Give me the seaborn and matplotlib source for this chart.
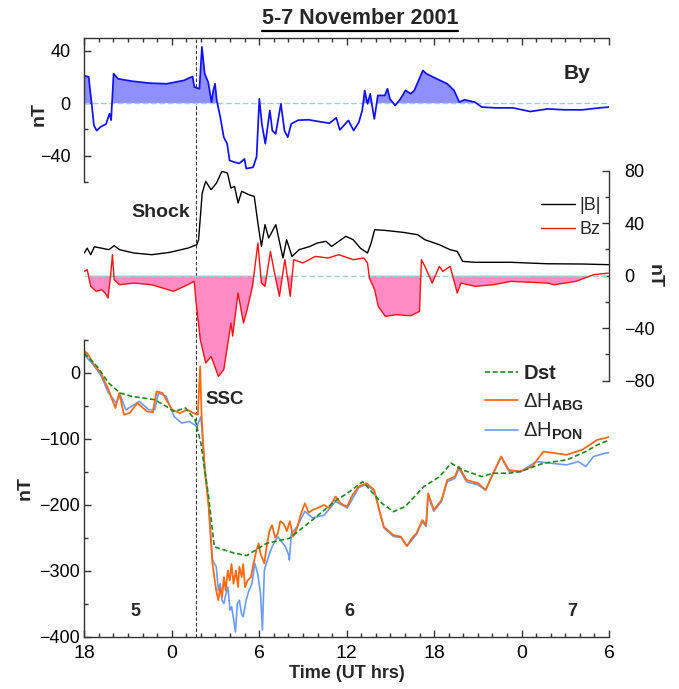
import numpy as np
import pandas as pd
import matplotlib
matplotlib.use('Agg')
import matplotlib.pyplot as plt
import seaborn as sns
from matplotlib.ticker import MultipleLocator, FixedLocator
from matplotlib.lines import Line2D

# ---------------- data (time in hours since 18 UT, 5 Nov 2001) ----------------
by_t = [0, 0.3, 0.53, 0.66, 0.85, 1.13, 1.49, 1.73, 1.84, 2.01, 2.32, 3.27, 4.46, 5.65,
        6.84, 7.43, 7.55, 7.9, 8.07, 8.26, 8.5, 8.73, 8.85, 8.97, 9.09, 9.33, 9.57, 9.8,
        9.97, 10.28, 10.64, 10.99, 11.11, 11.58, 11.82, 12.01, 12.18, 12.42, 12.73, 12.9,
        13.13, 13.49, 13.73, 13.96, 14.2, 14.68, 15.39, 16.34, 16.82, 17.29, 17.53, 18.12,
        18.48, 18.84, 19.07, 19.24, 19.43, 19.62, 19.8, 19.9, 20.14, 20.62, 20.8, 20.97,
        21.33, 21.69, 22.04, 22.4, 22.64, 23.23, 23.47, 24.18, 24.9, 25.37, 25.73, 26.08,
        26.8, 27.27, 28.22, 29.41, 30.6, 31.79, 32.98, 34.17, 35.35, 36.0]
by_v = [21, 20, -3, -17, -21, -18, -16, -8, -13, 22.5, 18.6, 16.8, 15.3, 14.8,
        17.4, 20.4, 12.3, 11, 43, 22.5, 16, 0.8, 9.7, 14.8, 2, -10.7, -26, -31,
        -43.8, -45, -46, -42.6, -50, -49, -41, 3.3, -15.8, -31, -5.6, -21,
        -23.5, -0.5, -21, -26, -15.8, -13, -12.7, -14.5, -15.3, -11.2, -20.4, -13.2,
        -20.9, -14.5, -5.6, 9.7, -0.5, 7.2, -5.6, -12, 5.9, 5.9, 11, 3.3,
        -1.8, 3.3, 9.7, 7.2, 9.7, 25, 22.5, 18.6, 14.8, 9.7, 0.8, 2.6,
        0.8, -3, -3.6, -3.6, -6.4, -4.4, -5.1, -5.1, -3.6, -3]

b_t = [0, 0.2, 0.44, 0.69, 1.18, 1.68, 2.05, 2.42, 3.4, 4.63, 5.87, 7.1, 7.72, 7.84,
       8.09, 8.33, 8.7, 9.07, 9.44, 9.82, 10.06, 10.31, 10.55, 10.8, 11.29, 11.66, 11.91,
       12.15, 12.4, 12.65, 13.14, 13.63, 13.88, 14.25, 14.74, 15.48, 15.98, 16.59, 16.97,
       17.46, 17.95, 18.45, 18.94, 19.43, 19.68, 19.92, 20.66, 21.89, 22.88, 23.37, 24.36,
       25.1, 25.59, 25.96, 26.82, 29.28, 31.76, 34.2, 36.0]
b_v = [17.3, 21, 16, 22, 21, 19.8, 22.9, 19.8, 17.3, 16, 17.8, 21, 23.6, 27.4,
       63, 71.9, 65.5, 70.6, 79.5, 78.2, 66.8, 68, 55.4, 64.3, 61.7, 60.4, 40.1,
       22.3, 38.9, 28.7, 38.9, 13.5, 27.4, 14.7, 19.8, 22.3, 24.9, 26.2, 22.3,
       26.2, 30, 27.4, 21, 17.3, 24.9, 35, 34.5, 33, 31.2, 27.4, 23.6,
       19.8, 18.5, 10.9, 10.2, 10.2, 9.1, 8.9, 8.4]

bz_t = [0, 0.2, 0.44, 0.81, 1.18, 1.43, 1.63, 1.8, 1.93, 2.05, 2.42, 3.4, 4.63, 5.38,
        6.11, 6.61, 7.1, 7.54, 7.65, 7.96, 8.33, 8.7, 8.95, 9.2, 9.57, 9.82, 10.06, 10.18,
        10.55, 10.92, 11.17, 11.54, 11.91, 12.15, 12.4, 12.77, 13.14, 13.39, 13.76, 14.13,
        14.37, 14.99, 15.85, 16.72, 17.46, 18.45, 19.18, 19.43, 19.56, 19.92, 20.17, 20.66,
        21.4, 22.39, 23.0, 23.13, 23.37, 23.87, 24.36, 24.6, 25.1, 25.59, 25.84, 26.82,
        28.05, 29.28, 31.76, 32.25, 33.73, 34.96, 35.95]
bz_v = [3.3, 4.6, -8.1, -11.9, -10.7, -13.2, -17, -0.5, 16, -3, -6.9, -5.6, -6.9, -9.4,
        -11.9, -9.4, -6.9, -4.3, -18.3, -48.8, -66.5, -61.5, -69, -76.7, -71.6, -53.8, -36, -46,
        -13.2, -36, -25.9, -8.1, 24.9, -5.6, -8.1, 18.5, -3, -15.7, 12.2, -15.7,
        12.2, 9.7, 14.7, 13.5, 16, 12.2, 13.5, 9.7, -1.8, -10.7, -23.4, -31,
        -29.7, -30.5, -27.2, 12.2, 7.1, -5.6, 7.1, 3.3, 7.1, -13.2, -5.6, -8.1,
        -6.9, -4.3, -5.6, -6.9, -4.3, 0.8, 2]

dst_t = [0, 0.87, 1.66, 2.45, 3.24, 4.83, 5.62, 6.15, 6.94, 7.6, 8.0, 8.53, 8.92, 10.37,
         11.15, 12.49, 14.07, 15.66, 17.24, 18.04, 19.1, 20.42, 21.2, 22.0, 23.3, 24.38,
         25.17, 25.96, 27.28, 28.06, 29.12, 29.92, 31.5, 33.09, 34.41, 35.2, 36.0]
dst_v = [30, 10, -15, -30.4, -35.5, -40.6, -50.8, -58.4, -53.3, -71, -106.6, -188, -264, -274,
         -277, -258.8, -251, -223, -193.8, -182.7, -165, -197.9, -210.6, -203, -172.5, -157.3,
         -137, -147.2, -157.3, -152.2, -152.2, -149.6, -137, -132, -119.3, -109.2, -102]

abg_t = [0, 0.2, 0.6, 1.13, 1.66, 2.13, 2.4, 2.72, 3.11, 3.64, 4.3, 4.7, 4.96, 5.36,
         6.02, 6.55, 7.07, 7.47, 7.79, 7.95, 8.05, 8.26, 8.53, 8.79, 9.05, 9.2, 9.32, 9.45,
         9.58, 9.7, 9.85, 9.98, 10.1, 10.24, 10.4, 10.55, 10.64, 10.8, 10.9, 11.03, 11.2,
         11.43, 11.6, 11.8, 11.96, 12.1, 12.35, 12.5, 12.7, 12.88, 13.1, 13.28, 13.45, 13.67,
         13.9, 14.1, 14.33, 14.6, 14.85, 15.13, 15.4, 15.66,
         16.0, 16.45, 16.8, 17.24, 17.6, 18.04, 18.4, 18.83, 19.36, 19.89, 20.2, 20.55, 21.2,
         21.73, 22.13, 22.5, 22.79, 23.19, 23.45, 23.59, 23.98, 24.51, 24.9, 25.43, 25.7, 26.22,
         27.02, 27.54, 27.94, 28.6, 29.12, 29.92, 30.72, 31.5, 32.3, 33.09, 34.15, 35.2, 35.73, 36.0]
abg_v = [32.9, 30, 15, 0, -25.4, -53.3, -30.4, -63.4, -60.9, -45.7, -58.4, -59.9, -28, -30.4,
         -55.8, -60.9, -55.8, -60.9, -63.4, 10, -66, -147, -203, -289, -330, -345, -325, -340,
         -310, -330, -300, -315, -290, -320, -300, -325, -294, -310, -290, -325, -315,
         -310, -290, -270, -258.8, -275, -289, -265, -240, -231, -250, -243.6, -225, -228.4,
         -240, -225, -248.6, -235, -215, -197.9, -212, -208,
         -205, -200.4, -205, -187.7, -198, -203, -185, -172.5, -167.4, -177.6, -205, -233.4, -246.1,
         -248.6, -262.8, -250, -243.6, -223.3, -230.9, -182.7, -208, -192.8, -162.4, -157.3, -142.1, -162.4,
         -167.4, -177.6, -157.3, -126.8, -147.2, -149.6, -142, -119.3, -121.8, -124.3, -116.7, -101.5, -98.9, -97]

pon_t = [0, 0.6, 1.13, 1.66, 2.19, 2.45, 2.85, 3.24, 3.77, 4.43, 4.83, 5.09, 5.62, 6.15,
         6.68, 7.2, 7.73, 8.0, 8.26, 8.53, 8.79, 9.05, 9.2, 9.32, 9.45, 9.58, 9.72, 9.85,
         10.0, 10.11, 10.25, 10.37, 10.5, 10.64, 10.78, 10.9, 11.1, 11.3, 11.5, 11.7, 11.9,
         12.09, 12.22, 12.35, 12.49, 12.7, 12.88, 13.1, 13.28, 13.5, 13.81, 14.0, 14.07, 14.2,
         14.6, 15.13, 15.66, 16.45, 17.24, 18.04, 18.83, 19.36, 19.89, 20.55, 21.2, 21.73,
         22.13, 22.79, 23.19, 23.45, 23.59, 23.98, 24.51, 24.9, 25.43, 25.7, 26.22, 27.02,
         27.54, 27.94, 28.6, 29.12, 29.92, 31.0, 32.03, 33.09, 33.89, 34.41, 34.94, 35.73, 36.0]
pon_v = [27.9, 12.6, -3, -30.4, -45.7, -33, -55.8, -50.8, -43.2, -55.8, -55.8, -30.4, -35.5, -66,
         -76.1, -73.6, -81.2, -66, -142, -198, -284, -294, -330, -320, -345, -350, -335, -325,
         -360, -355, -375, -393, -350, -345, -365, -370, -345, -330, -320, -289, -305,
         -335, -390, -300, -289, -275, -264, -255, -248.6, -255, -264, -275, -284, -243.6,
         -233.4, -210, -220, -216, -195, -205, -174, -169, -179, -235, -248, -250,
         -263, -245, -226, -233, -186, -210, -195, -165, -160, -145, -165, -170,
         -178, -158, -128, -149, -150, -134.5, -137, -139.6, -134.5, -142, -126.8, -121.8, -121]

hour_ticks = [0, 6, 12, 18, 24, 30, 36]
hour_labels = ['18', '0', '6', '12', '18', '0', '6']
day_labels = ['5', '6', '7']
day_pos = [3.48, 18.17, 33.5]
shock_t = 7.65

# ---------------- style ----------------
sns.set_theme(style='ticks')
plt.rcParams['font.family'] = ['Liberation Sans', 'DejaVu Sans']
plt.rcParams['mathtext.fontset'] = 'custom'
plt.rcParams['mathtext.rm'] = 'Liberation Sans'
plt.rcParams['mathtext.bf'] = 'Liberation Sans:bold'
plt.rcParams['mathtext.it'] = 'Liberation Sans:italic'

W, H = 679, 689
fig = plt.figure(figsize=(W / 100, H / 100), dpi=100)
fig.patch.set_facecolor('white')


def rect(x0, x1, ytop, ybot):
    return [x0 / W, 1 - ybot / H, (x1 - x0) / W, (ybot - ytop) / H]


X0, X1 = 84.3, 609.0
ax_bg = fig.add_axes(rect(X0, X1, 37.7, 636.5))
ax_top = fig.add_axes(rect(X0, X1, 37.7, 181.7))
ax_mid = fig.add_axes(rect(X0, X1, 170.7, 380.7))
ax_bot = fig.add_axes(rect(X0, X1, 340.0, 636.5))

SP = '#333333'
for ax in (ax_bg, ax_top, ax_mid, ax_bot):
    ax.set_facecolor('none')
    ax.set_xlim(0, 36)
    for s in ax.spines.values():
        s.set_color(SP)
        s.set_linewidth(1.0)
    ax.tick_params(which='both', direction='in', color=SP, width=1.0, labelcolor='black')
    ax.tick_params(which='major', length=5)
    ax.tick_params(which='minor', length=3)

ax_bg.axis('off')
ax_bg.set_ylim(0, 1)
ax_bg.axvline(shock_t, color='#333333', lw=0.8, ls=(0, (3, 2)))

zero_col = '#9fd0d0'

# ---- top panel: By ----
df_by = pd.DataFrame({'t': by_t, 'By': by_v})
ax_top.fill_between(df_by['t'], df_by['By'], 0, where=df_by['By'] > 0, interpolate=True,
                    color='#8f8fff', lw=0)
ax_top.axhline(0, color=zero_col, lw=1.0, ls=(0, (4, 2)))
sns.lineplot(data=df_by, x='t', y='By', ax=ax_top, color='#1010ff', lw=1.25, legend=False)
ax_top.set_ylim(-60, 50)
ax_top.spines['right'].set_visible(False)
ax_top.spines['bottom'].set_visible(False)
ax_top.xaxis.tick_top()
ax_top.set_xticks(hour_ticks)
ax_top.xaxis.set_minor_locator(MultipleLocator(1))
ax_top.tick_params(axis='x', which='both', labeltop=False, labelbottom=False, top=True, bottom=False)
ax_top.yaxis.set_major_locator(FixedLocator([-40, 0, 40]))
ax_top.yaxis.set_minor_locator(FixedLocator([-60, -20, 20]))
ax_top.tick_params(axis='y', labelsize=13, pad=10, right=False)
ax_top.set_xlabel('')
ax_top.set_ylabel('nT', fontsize=14, fontweight='bold', va='center')
ax_top.yaxis.set_label_coords(-0.086, 0.47)
ax_top.text(33.8, 23, 'By', fontsize=15, fontweight='bold', ha='center', va='center')

# ---- middle panel: |B| and Bz ----
df_b = pd.DataFrame({'t': b_t, 'B': b_v})
df_bz = pd.DataFrame({'t': bz_t, 'Bz': bz_v})
ax_mid.fill_between(df_bz['t'], df_bz['Bz'], 0, where=df_bz['Bz'] < 0, interpolate=True,
                    color='#ff8cc4', lw=0)
ax_mid.axhline(0, color=zero_col, lw=1.0, ls=(0, (4, 2)))
sns.lineplot(data=df_b, x='t', y='B', ax=ax_mid, color='black', lw=1.0, label='|B|')
sns.lineplot(data=df_bz, x='t', y='Bz', ax=ax_mid, color='#ff1010', lw=1.0, label='Bz')
ax_mid.set_ylim(-80, 80)
for s in ('left', 'top', 'bottom'):
    ax_mid.spines[s].set_visible(False)
ax_mid.yaxis.tick_right()
ax_mid.yaxis.set_label_position('right')
ax_mid.yaxis.set_major_locator(FixedLocator([-80, -40, 0, 40, 80]))
ax_mid.yaxis.set_minor_locator(FixedLocator([-60, -20, 20, 60]))
ax_mid.tick_params(axis='y', which='both', labelsize=13, pad=11, left=False, right=True)
ax_mid.tick_params(axis='x', which='both', bottom=False, top=False, labelbottom=False)
ax_mid.set_xlabel('')
ax_mid.set_ylabel('nT', fontsize=14, fontweight='bold', rotation=270, va='center')
ax_mid.yaxis.set_label_coords(1.086, 0.5)
ax_mid.text(7.25, 48, 'Shock', fontsize=14, fontweight='bold', ha='right', va='center')
h, l = ax_mid.get_legend_handles_labels()
ax_mid.legend(h, l, loc='upper right', bbox_to_anchor=(0.985, 0.875), frameon=False,
              fontsize=13, handlelength=1.9, handletextpad=0.25, labelspacing=0.4,
              borderpad=0, borderaxespad=0)

# ---- bottom panel: Dst, dH ----
df_pon = pd.DataFrame({'t': pon_t, 'H': pon_v})
df_abg = pd.DataFrame({'t': abg_t, 'H': abg_v})
df_dst = pd.DataFrame({'t': dst_t, 'H': dst_v})
sns.lineplot(data=df_pon, x='t', y='H', ax=ax_bot, color='#6a9cff', lw=1.2, legend=False)
sns.lineplot(data=df_abg, x='t', y='H', ax=ax_bot, color='#ff6a10', lw=1.3, legend=False)
sns.lineplot(data=df_dst, x='t', y='H', ax=ax_bot, color='#1a8a1a', lw=1.2, legend=False,
             linestyle=(0, (3, 1.6)))
ax_bot.set_ylim(-400, 50)
ax_bot.spines['right'].set_visible(False)
ax_bot.spines['top'].set_visible(False)
ax_bot.set_xticks(hour_ticks)
ax_bot.set_xticklabels(hour_labels)
ax_bot.xaxis.set_minor_locator(MultipleLocator(1))
ax_bot.yaxis.set_major_locator(MultipleLocator(100))
ax_bot.yaxis.set_minor_locator(MultipleLocator(50))
ax_bot.tick_params(axis='x', which='both', labelsize=14, pad=6, top=False)
ax_bot.tick_params(axis='y', which='both', labelsize=13, pad=3, right=False)
ax_bot.set_xlabel('Time (UT hrs)', fontsize=13, fontweight='bold', labelpad=2)
ax_bot.set_ylabel('nT', fontsize=14, fontweight='bold', va='center')
ax_bot.yaxis.set_label_coords(-0.113, 0.5)
ax_bot.text(8.32, -40.6, 'SSC', fontsize=13.5, fontweight='bold', ha='left', va='center')
for lab, pos in zip(day_labels, day_pos):
    ax_bot.text(pos, -362, lab, fontsize=13, fontweight='bold', ha='center', va='center')

lines = ax_bot.get_lines()
hb = [lines[2], lines[1], lines[0]]
lb = [r'$\mathbf{Dst}$', r'$\Delta$H$_{\mathbf{ABG}}$', r'$\Delta$H$_{\mathbf{PON}}$']
ax_bot.legend(hb, lb, loc='upper right', bbox_to_anchor=(0.952, 0.918), frameon=False,
              fontsize=14.5, handlelength=1.65, handletextpad=0.25, labelspacing=0.4,
              borderpad=0, borderaxespad=0)

# ---- title with underline ----
title = fig.text(360 / W, 1 - 18 / H, '5-7 November 2001', fontsize=15.5, fontweight='bold',
                 ha='center', va='center')
fig.canvas.draw()
bb = title.get_window_extent()
uy = (bb.y0 - 2) / fig.bbox.height
fig.add_artist(Line2D([bb.x0 / fig.bbox.width, bb.x1 / fig.bbox.width], [uy, uy],
                      transform=fig.transFigure, color='black', lw=1.6))

fig.savefig('out.png', dpi=100, facecolor='white')
